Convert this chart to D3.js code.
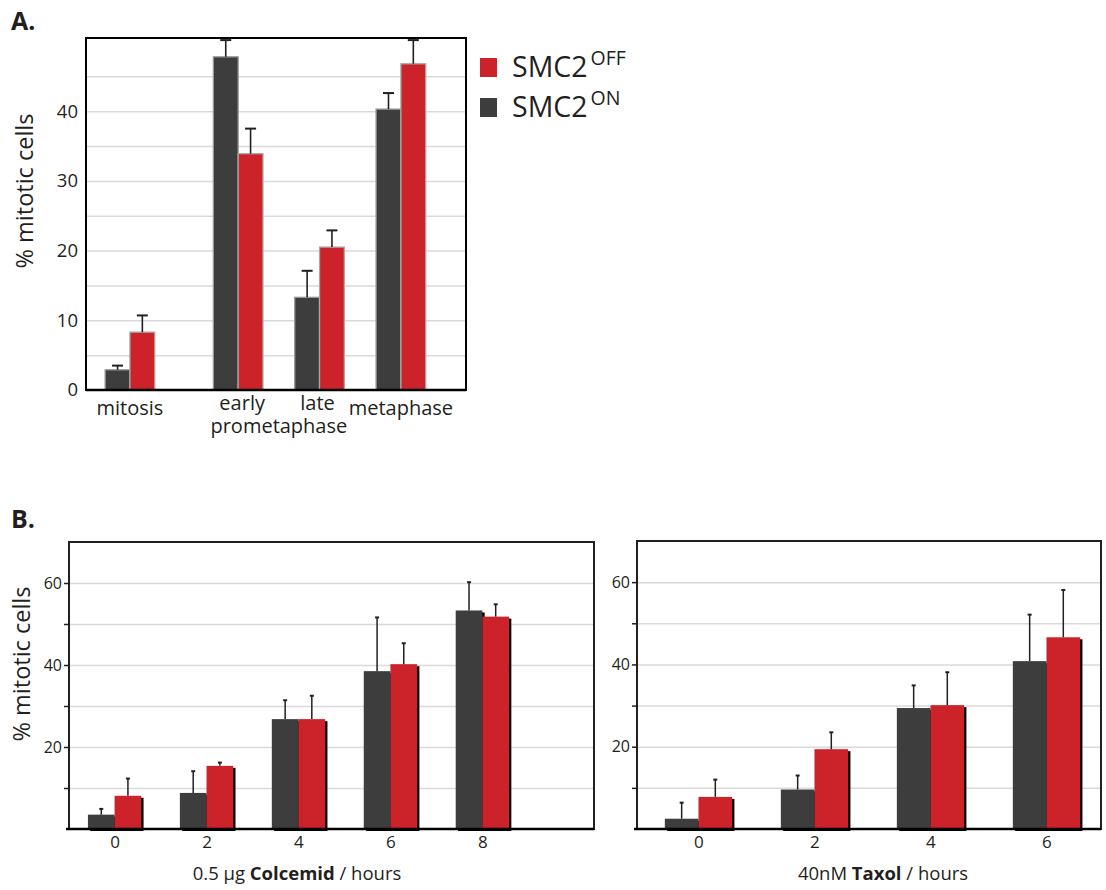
<!DOCTYPE html>
<html>
<head>
<meta charset="utf-8">
<script src="https://cdn.jsdelivr.net/npm/d3@7"></script>
<style>
  body { margin: 0; background: #fff; }
  text { font-family: "Open Sans", sans-serif; fill: #231f20; }
</style>
</head>
<body>
<svg id="fig" width="1106" height="890"></svg>
<script>
// ---- data: panel A (phase distribution) ----
var phaseNames = ["mitosis", "early", "late", "metaphase"];
var phaseOff = [8.3, 33.9, 20.5, 46.8];
var phaseOffErr = [2.4, 3.6, 2.4, 3.4];
var phaseOn = [2.9, 47.8, 13.3, 40.3];
var phaseOnErr = [0.6, 2.4, 3.8, 2.3];
var yTicksA = [0, 10, 20, 30, 40];
var gridA = [5, 10, 15, 20, 25, 30, 35, 40, 45];

// ---- data: panel B (time courses) ----
var colcemidHours = ["0", "2", "4", "6", "8"];
var colcemidOn = [3.5, 8.8, 26.8, 38.5, 53.3];
var colcemidOnErr = [1.4, 5.3, 4.6, 13.1, 6.9];
var colcemidOff = [8.1, 15.4, 26.8, 40.2, 51.8];
var colcemidOffErr = [4.2, 0.8, 5.7, 5.1, 3.0];

var taxolHours = ["0", "2", "4", "6"];
var taxolOn = [2.5, 9.6, 29.4, 40.8];
var taxolOnErr = [3.9, 3.4, 5.5, 11.3];
var taxolOff = [7.8, 19.4, 30.1, 46.6];
var taxolOffErr = [4.2, 4.1, 8.0, 11.5];

var yTicksB = [20, 40, 60];
var gridB = [10, 20, 30, 40, 50, 60];

var seriesNames = ["OFF", "ON"];
var RED = "#cc2229", DARK = "#3d3d3d";

var svg = d3.select("#fig");

// draws one series of bars (+ error bars); x(c) gives the group centre
function bars(g, x, y, bw, cats, vals, errs, color, shift, opt) {
  var rows = cats.map(function(c, i) { return {c: c, v: vals[i], e: errs[i]}; });
  var base = y(0);
  if (opt.shadow) {
    g.selectAll(null).data(rows).enter().append("rect")
      .attr("x", function(d) { return x(d.c) + shift * bw + 2.3; })
      .attr("y", function(d) { return y(d.v) + 2; })
      .attr("width", bw)
      .attr("height", function(d) { return base - y(d.v); })
      .attr("fill", "#000");
  }
  g.selectAll(null).data(rows).enter().append("rect")
    .attr("x", function(d) { return x(d.c) + shift * bw; })
    .attr("y", function(d) { return y(d.v); })
    .attr("width", bw)
    .attr("height", function(d) { return base - y(d.v); })
    .attr("fill", color)
    .attr("stroke", opt.outline || "none")
    .attr("stroke-width", 1.3);
  var eb = g.selectAll(null).data(rows).enter().append("g")
    .attr("transform", function(d) { return "translate(" + (x(d.c) + shift * bw + bw / 2) + ",0)"; });
  eb.append("line")
    .attr("y1", function(d) { return y(d.v); })
    .attr("y2", function(d) { return y(d.v + d.e); })
    .attr("stroke", "#231f20").attr("stroke-width", opt.errW);
  eb.append("line")
    .attr("x1", -opt.cap / 2).attr("x2", opt.cap / 2)
    .attr("y1", function(d) { return y(d.v + d.e); })
    .attr("y2", function(d) { return y(d.v + d.e); })
    .attr("stroke", "#231f20").attr("stroke-width", 2);
}

// ================= Panel A =================
var A = {l: 86, r: 466, t: 38, b: 390};
// mitosis (total) sits a bit apart from the three phase groups
var slotA = d3.scaleOrdinal().domain(phaseNames).range([0, 1.33, 2.33, 3.33]);
var linA = d3.scaleLinear().domain([-0.54, 4.13]).range([A.l, A.r]);
var xA = function(c) { return linA(slotA(c)); };
var stepA = linA(1) - linA(0);
var yA = d3.scaleLinear().domain([0, 50.5]).range([A.b, A.t]).clamp(true);
var bwA = stepA * 0.305;
var gA = svg.append("g");

gA.append("g").attr("transform", "translate(" + A.l + ",0)")
  .call(d3.axisLeft(yA).tickValues(gridA).tickSize(-(A.r - A.l)).tickFormat(""))
  .call(function(s) {
    s.select(".domain").remove();
    s.selectAll("line").attr("stroke", "#d9d9d9").attr("stroke-width", 1.5);
  });

gA.append("g").attr("transform", "translate(" + A.l + ",0)")
  .call(d3.axisLeft(yA).tickValues(yTicksA).tickSize(0).tickPadding(8))
  .call(function(s) {
    s.select(".domain").remove();
    s.selectAll("text").attr("font-size", 18.5).attr("font-family", "Open Sans").attr("fill", "#231f20");
  });

bars(gA, xA, yA, bwA, phaseNames, phaseOn, phaseOnErr, DARK, -1, {outline: "#9a9a9a", errW: 1.6, cap: 11});
bars(gA, xA, yA, bwA, phaseNames, phaseOff, phaseOffErr, RED, 0, {outline: "#a8a8a8", errW: 1.6, cap: 11});

gA.append("rect").attr("x", A.l).attr("y", A.t).attr("width", A.r - A.l).attr("height", A.b - A.t)
  .attr("fill", "none").attr("stroke", "#000").attr("stroke-width", 2);
gA.append("line").attr("x1", A.l).attr("x2", A.r).attr("y1", A.b).attr("y2", A.b)
  .attr("stroke", "#000").attr("stroke-width", 2.5);

// category labels: early / late share a second line "prometaphase"
var labA = gA.append("text").attr("font-size", 20).attr("text-anchor", "middle");
var labNudge = {early: 4, late: -2};
phaseNames.forEach(function(d) {
  var inner = (d === "early" || d === "late");
  labA.append("tspan")
    .attr("x", xA(d) + (labNudge[d] || 0))
    .attr("y", inner ? A.b + 20 : A.b + 25)
    .text(d);
});
labA.append("tspan")
  .attr("x", (xA("early") + xA("late")) / 2)
  .attr("y", A.b + 43)
  .text("prometaphase");

gA.append("text").attr("transform", "translate(33,191) rotate(-90)")
  .attr("text-anchor", "middle").attr("font-size", 23.5).text("% mitotic cells");

svg.append("text").attr("x", 11).attr("y", 30).attr("font-size", 25).attr("font-weight", "bold").text("A.");

// legend
var leg = svg.append("g").attr("transform", "translate(480,58)");
var legColors = [RED, DARK];
var li = leg.selectAll(null).data(seriesNames).enter().append("g")
  .attr("transform", function(d, i) { return "translate(0," + i * 40 + ")"; });
li.append("rect").attr("width", 17).attr("height", 19).attr("fill", function(d, i) { return legColors[i]; });
var lt = li.append("text").attr("x", 32).attr("y", 19).attr("font-size", 28.5);
lt.append("tspan").text("SMC2");
lt.append("tspan").attr("dx", 3).attr("dy", -12).attr("font-size", 19.5).text(function(d) { return d; });

svg.append("text").attr("x", 11).attr("y", 528).attr("font-size", 25).attr("font-weight", "bold").text("B.");

// ================= Panel B =================
function timePanel(box, hours, on, onErr, off, offErr, pad, align, title, boldWord, titleX, yTitle) {
  var x = d3.scalePoint().domain(hours).range([box.l, box.r]).padding(pad).align(align);
  var y = d3.scaleLinear().domain([0, 70]).range([box.b, box.t]).clamp(true);
  var bw = x.step() * 0.29;
  var g = svg.append("g");

  g.append("g").attr("transform", "translate(" + box.l + ",0)")
    .call(d3.axisLeft(y).tickValues(gridB).tickSize(-(box.r - box.l)).tickFormat(""))
    .call(function(s) {
      s.select(".domain").remove();
      s.selectAll("line").attr("stroke", "#d9d9d9").attr("stroke-width", 1.5);
    });

  g.append("g").attr("transform", "translate(" + box.l + ",0)")
    .call(d3.axisLeft(y).tickValues(gridB).tickSize(5).tickPadding(2)
      .tickFormat(function(d) { return yTicksB.indexOf(d) >= 0 ? d : ""; }))
    .call(function(s) {
      s.select(".domain").remove();
      s.selectAll("line").attr("stroke", "#231f20").attr("stroke-width", 1.5);
      s.selectAll("text").attr("font-size", 16).attr("font-family", "Open Sans").attr("fill", "#231f20");
    });

  bars(g, x, y, bw, hours, on, onErr, DARK, -1, {shadow: true, errW: 1.5, cap: 4});
  bars(g, x, y, bw, hours, off, offErr, RED, 0, {shadow: true, errW: 1.5, cap: 4});

  g.append("rect").attr("x", box.l).attr("y", box.t).attr("width", box.r - box.l).attr("height", box.b - box.t)
    .attr("fill", "none").attr("stroke", "#231f20").attr("stroke-width", 2);

  g.append("g").attr("transform", "translate(0," + box.b + ")")
    .call(d3.axisBottom(x).tickSize(0).tickPadding(7))
    .call(function(s) {
      s.select(".domain").attr("stroke", "#000").attr("stroke-width", 2.5)
        .attr("d", "M" + (box.l - 3) + ",0H" + box.r);
      s.selectAll("text").attr("font-size", 17).attr("font-family", "Open Sans").attr("fill", "#231f20");
    });

  var t = g.append("text").attr("x", titleX).attr("y", box.b + 51)
    .attr("text-anchor", "middle").attr("font-size", 18.5);
  t.append("tspan").text(title[0]);
  t.append("tspan").attr("font-weight", "bold").text(boldWord);
  t.append("tspan").text(title[1]);

  if (yTitle) {
    g.append("text").attr("transform", "translate(30,664) rotate(-90)")
      .attr("text-anchor", "middle").attr("font-size", 23.5).text(yTitle);
  }
}

timePanel({l: 69, r: 594, t: 542, b: 829}, colcemidHours, colcemidOn, colcemidOnErr, colcemidOff, colcemidOffErr,
  0.855, 0.29, ["0.5 \u00b5g ", " / hours"], "Colcemid", 297, "% mitotic cells");
timePanel({l: 637, r: 1101, t: 541, b: 829}, taxolHours, taxolOn, taxolOnErr, taxolOff, taxolOffErr,
  0.5, 0.53, ["40nM ", " / hours"], "Taxol", 883, null);
</script>
</body>
</html>
